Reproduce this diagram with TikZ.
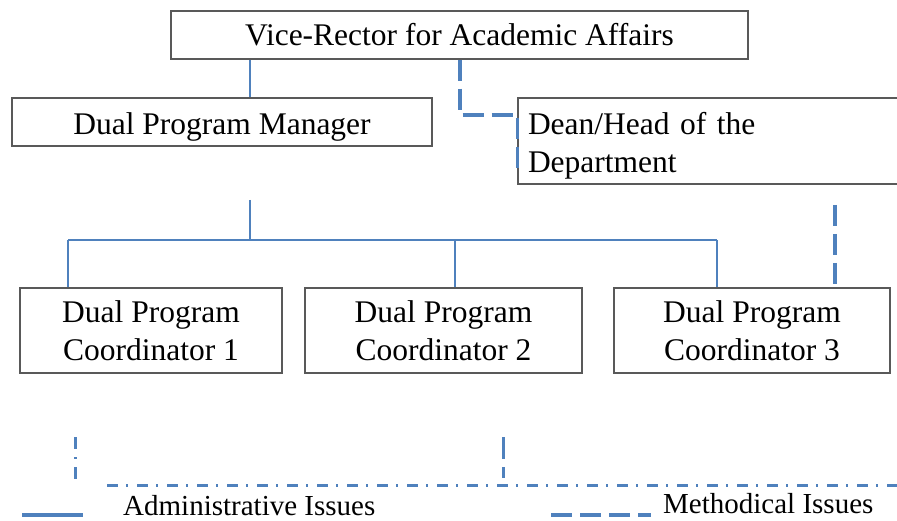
\documentclass[tikz,border=0pt]{standalone}
\usepackage{fontspec}
\setmainfont{Liberation Serif}
\usepackage{tikz}
\usetikzlibrary{positioning}

\definecolor{linkblue}{RGB}{79,129,189}
\definecolor{boxgray}{RGB}{89,89,89}

\begin{document}
\begin{tikzpicture}[x=1pt,y=-1pt,
	box/.style={draw=boxgray,line width=1.2pt,rectangle,inner sep=0pt,font=\fontsize{31.5}{38}\selectfont},
	admin/.style={linkblue,line width=1.1pt},
	adminkey/.style={linkblue,line width=3.2pt},
	method/.style={linkblue,line width=3.2pt,dash pattern=on 21pt off 8pt},
	mixed/.style={linkblue,line width=3pt,dash pattern=on 11pt off 8pt on 2pt off 9pt},
	legend/.style={font=\fontsize{29}{32}\selectfont,inner sep=0pt,anchor=west}]
	\useasboundingbox (0,0) rectangle (897,521);
	% boxes
	\node[box,minimum width=577pt,minimum height=48pt] (vr) at (459.5,35) {Vice-Rector for Academic Affairs};
	\node[box,minimum width=420pt,minimum height=48pt] (dpm) at (222,122) {\rule{0pt}{32pt}Dual Program Manager};
	\node[box,minimum height=86pt,text width=362pt,inner xsep=10pt,align=left] (dean) at (709,141) {\rule{0pt}{32pt}Dean/Head of the\\Department};
	\node[box,minimum width=262pt,minimum height=85pt,align=center] (c1) at (151,330.5) {Dual Program\\Coordinator 1};
	\node[box,minimum width=277pt,minimum height=85pt,align=center] (c2) at (443.5,330.5) {Dual Program\\Coordinator 2};
	\node[box,minimum width=276pt,minimum height=85pt,align=center] (c3) at (752,330.5) {Dual Program\\Coordinator 3};
	% administrative lines
	\coordinate (vrl) at (250,0);
	\draw[admin] (vr.south -| vrl) -- (dpm.north -| vrl);
	\coordinate (fork) at (250,200);
	\coordinate (t1) at (68,240);
	\coordinate (t2) at (455,240);
	\coordinate (t3) at (717,240);
	\draw[admin] (fork) -- (fork |- t1);
	\draw[admin] (t1) -- (t3);
	\foreach \i in {1,2,3} \draw[admin] (t\i) -- (c\i.north -| t\i);
	% methodical lines
	\coordinate (md) at (460,115);
	\draw[method] (vr.south -| md) |- (dean.west |- md) -- ++(0,53);
	\coordinate (dm) at (835,205);
	\draw[method] (dm) -- (c3.north -| dm);
	% lower strokes
	\coordinate (ml) at (75,437);
	\coordinate (mr) at (503,437);
	\coordinate (mh) at (107,485);
	\draw[mixed,dash pattern=on 12pt off 8pt on 2pt off 8pt] (ml) -- ++(0,42);
	\draw[mixed,dash pattern=on 22pt off 8pt] (mr) -- ++(0,41);
	\draw[mixed] (mh) -- ++(800,0);
	% legend
	\coordinate (la) at (22,515);
	\coordinate (lm) at (551,515);
	\draw[adminkey] (la) -- ++(61,0);
	\node[legend] (admintext) at (123,506) {Administrative Issues};
	\draw[method] (lm) -- ++(100,0);
	\node[legend] (methtext) at (663,504) {Methodical Issues};
\end{tikzpicture}
\end{document}
